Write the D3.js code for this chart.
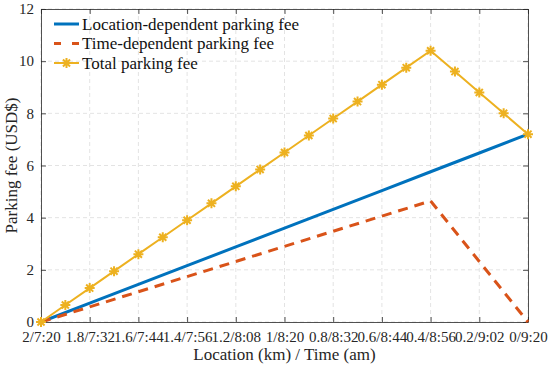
<!DOCTYPE html>
<html>
<head>
<meta charset="utf-8">
<script src="https://cdn.jsdelivr.net/npm/d3@7"></script>
<style>
  html, body { margin: 0; padding: 0; background: #fff; }
</style>
</head>
<body>
<div id="chart"></div>
<script>
// x tick labels: location (km) / time (am)
const categories = ["2/7:20", "1.8/7:32", "1.6/7:44", "1.4/7:56", "1.2/8:08", "1/8:20",
  "0.8/8:32", "0.6/8:44", "0.4/8:56", "0.2/9:02", "0/9:20"];

const locationFee = [0, 0.72, 1.44, 2.16, 2.88, 3.6, 4.32, 5.04, 5.76, 6.48, 7.2];
const timeFee = [0, 0.58, 1.16, 1.74, 2.32, 2.9, 3.48, 4.06, 4.64, 2.32, 0];

// total fee is sampled at half steps
const totalPos = [0, 0.5, 1, 1.5, 2, 2.5, 3, 3.5, 4, 4.5, 5, 5.5, 6, 6.5, 7, 7.5, 8, 8.5, 9, 9.5, 10];
const totalFee = [0, 0.65, 1.3, 1.95, 2.6, 3.25, 3.9, 4.55, 5.2, 5.85, 6.5, 7.15, 7.8,
  8.45, 9.1, 9.75, 10.4, 9.6, 8.8, 8.0, 7.2];

const yTicks = [0, 2, 4, 6, 8, 10, 12];

const FONT = "Liberation Serif";
const W = 550, H = 368;
const margin = { top: 9, right: 22, bottom: 46, left: 41 };
const iw = W - margin.left - margin.right;
const ih = H - margin.top - margin.bottom;

const svg = d3.select("#chart").append("svg")
  .attr("width", W).attr("height", H)
  .attr("font-family", FONT);

const g = svg.append("g").attr("transform", `translate(${margin.left},${margin.top})`);

const x = d3.scaleLinear().domain([0, categories.length - 1]).range([0, iw]);
const y = d3.scaleLinear().domain([0, 12]).range([ih, 0]);

// grid
g.append("g").selectAll("line").data(d3.range(categories.length)).join("line")
  .attr("x1", d => x(d)).attr("x2", d => x(d)).attr("y1", 0).attr("y2", ih)
  .attr("stroke", "#dcdcdc").attr("stroke-width", 0.8).attr("stroke-dasharray", "4,3");
g.append("g").selectAll("line").data(yTicks).join("line")
  .attr("x1", 0).attr("x2", iw).attr("y1", d => y(d)).attr("y2", d => y(d))
  .attr("stroke", "#dcdcdc").attr("stroke-width", 0.8).attr("stroke-dasharray", "4,3");

// axes (MATLAB-like, ticks inward on all sides)
const tickFmt = i => categories[i];
const xAxis = g.append("g").attr("transform", `translate(0,${ih})`)
  .call(d3.axisBottom(x).tickValues(d3.range(categories.length)).tickFormat(tickFmt)
    .tickSizeInner(-5).tickSizeOuter(0).tickPadding(9));
const xTop = g.append("g")
  .call(d3.axisTop(x).tickValues(d3.range(categories.length)).tickFormat("")
    .tickSizeInner(-5).tickSizeOuter(0));
const yAxis = g.append("g")
  .call(d3.axisLeft(y).tickValues(yTicks).tickSizeInner(-5).tickSizeOuter(0).tickPadding(7));
const yRight = g.append("g").attr("transform", `translate(${iw},0)`)
  .call(d3.axisRight(y).tickValues(yTicks).tickFormat("").tickSizeInner(-5).tickSizeOuter(0));

[xAxis, xTop, yAxis, yRight].forEach(a => {
  a.attr("font-family", FONT).attr("font-size", 15);
  a.selectAll("path").attr("stroke", "#262626").attr("stroke-width", 0.8);
  a.selectAll("line").attr("stroke", "#262626").attr("stroke-width", 0.8);
  a.selectAll("text").attr("fill", "#262626");
});

// lines
const line = d3.line().x((d, i) => x(i)).y(d => y(d));
g.append("path").datum(locationFee).attr("d", line)
  .attr("fill", "none").attr("stroke", "#0072BD").attr("stroke-width", 3);
g.append("path").datum(timeFee).attr("d", line)
  .attr("fill", "none").attr("stroke", "#D95319").attr("stroke-width", 3)
  .attr("stroke-dasharray", "10,7");

const totalPts = totalPos.map((p, i) => [p, totalFee[i]]);
g.append("path").datum(totalPts)
  .attr("d", d3.line().x(d => x(d[0])).y(d => y(d[1])))
  .attr("fill", "none").attr("stroke", "#EDB120").attr("stroke-width", 2);

function star(sel, r) {
  const a = r * 0.7071;
  sel.append("path")
    .attr("d", `M${-r},0L${r},0M0,${-r}L0,${r}M${-a},${-a}L${a},${a}M${-a},${a}L${a},${-a}`)
    .attr("stroke", "#EDB120").attr("stroke-width", 2).attr("fill", "none");
}
g.append("g").selectAll("g").data(totalPts).join("g")
  .attr("transform", d => `translate(${x(d[0])},${y(d[1])})`)
  .each(function () { star(d3.select(this), 5); });

// legend
const legendItems = [
  { label: "Location-dependent parking fee", color: "#0072BD", dash: null, w: 3, marker: false },
  { label: "Time-dependent parking fee", color: "#D95319", dash: "7,11", w: 3, marker: false },
  { label: "Total parking fee", color: "#EDB120", dash: null, w: 2, marker: true }
];
const lg = svg.append("g").attr("transform", "translate(54,24)");
legendItems.forEach((d, i) => {
  const row = lg.append("g").attr("transform", `translate(0,${i * 19.5})`);
  row.append("line").attr("x1", 0).attr("x2", 25).attr("y1", 0).attr("y2", 0)
    .attr("stroke", d.color).attr("stroke-width", d.w)
    .attr("stroke-dasharray", d.dash);
  if (d.marker) {
    const m = row.append("g").attr("transform", "translate(12.5,0)");
    star(m, 5);
  }
  row.append("text").attr("x", 28).attr("y", 5.5).attr("font-size", 17)
    .attr("font-family", FONT).attr("fill", "#111").text(d.label);
});

// axis titles
svg.append("text").attr("x", margin.left + iw / 2).attr("y", 360)
  .attr("text-anchor", "middle").attr("font-size", 17).attr("font-family", FONT)
  .attr("fill", "#262626").text("Location (km) / Time (am)");
svg.append("text")
  .attr("transform", `translate(17,${margin.top + ih / 2}) rotate(-90)`)
  .attr("text-anchor", "middle").attr("font-size", 17).attr("font-family", FONT)
  .attr("fill", "#262626").text("Parking fee (USD$)");
</script>
</body>
</html>
